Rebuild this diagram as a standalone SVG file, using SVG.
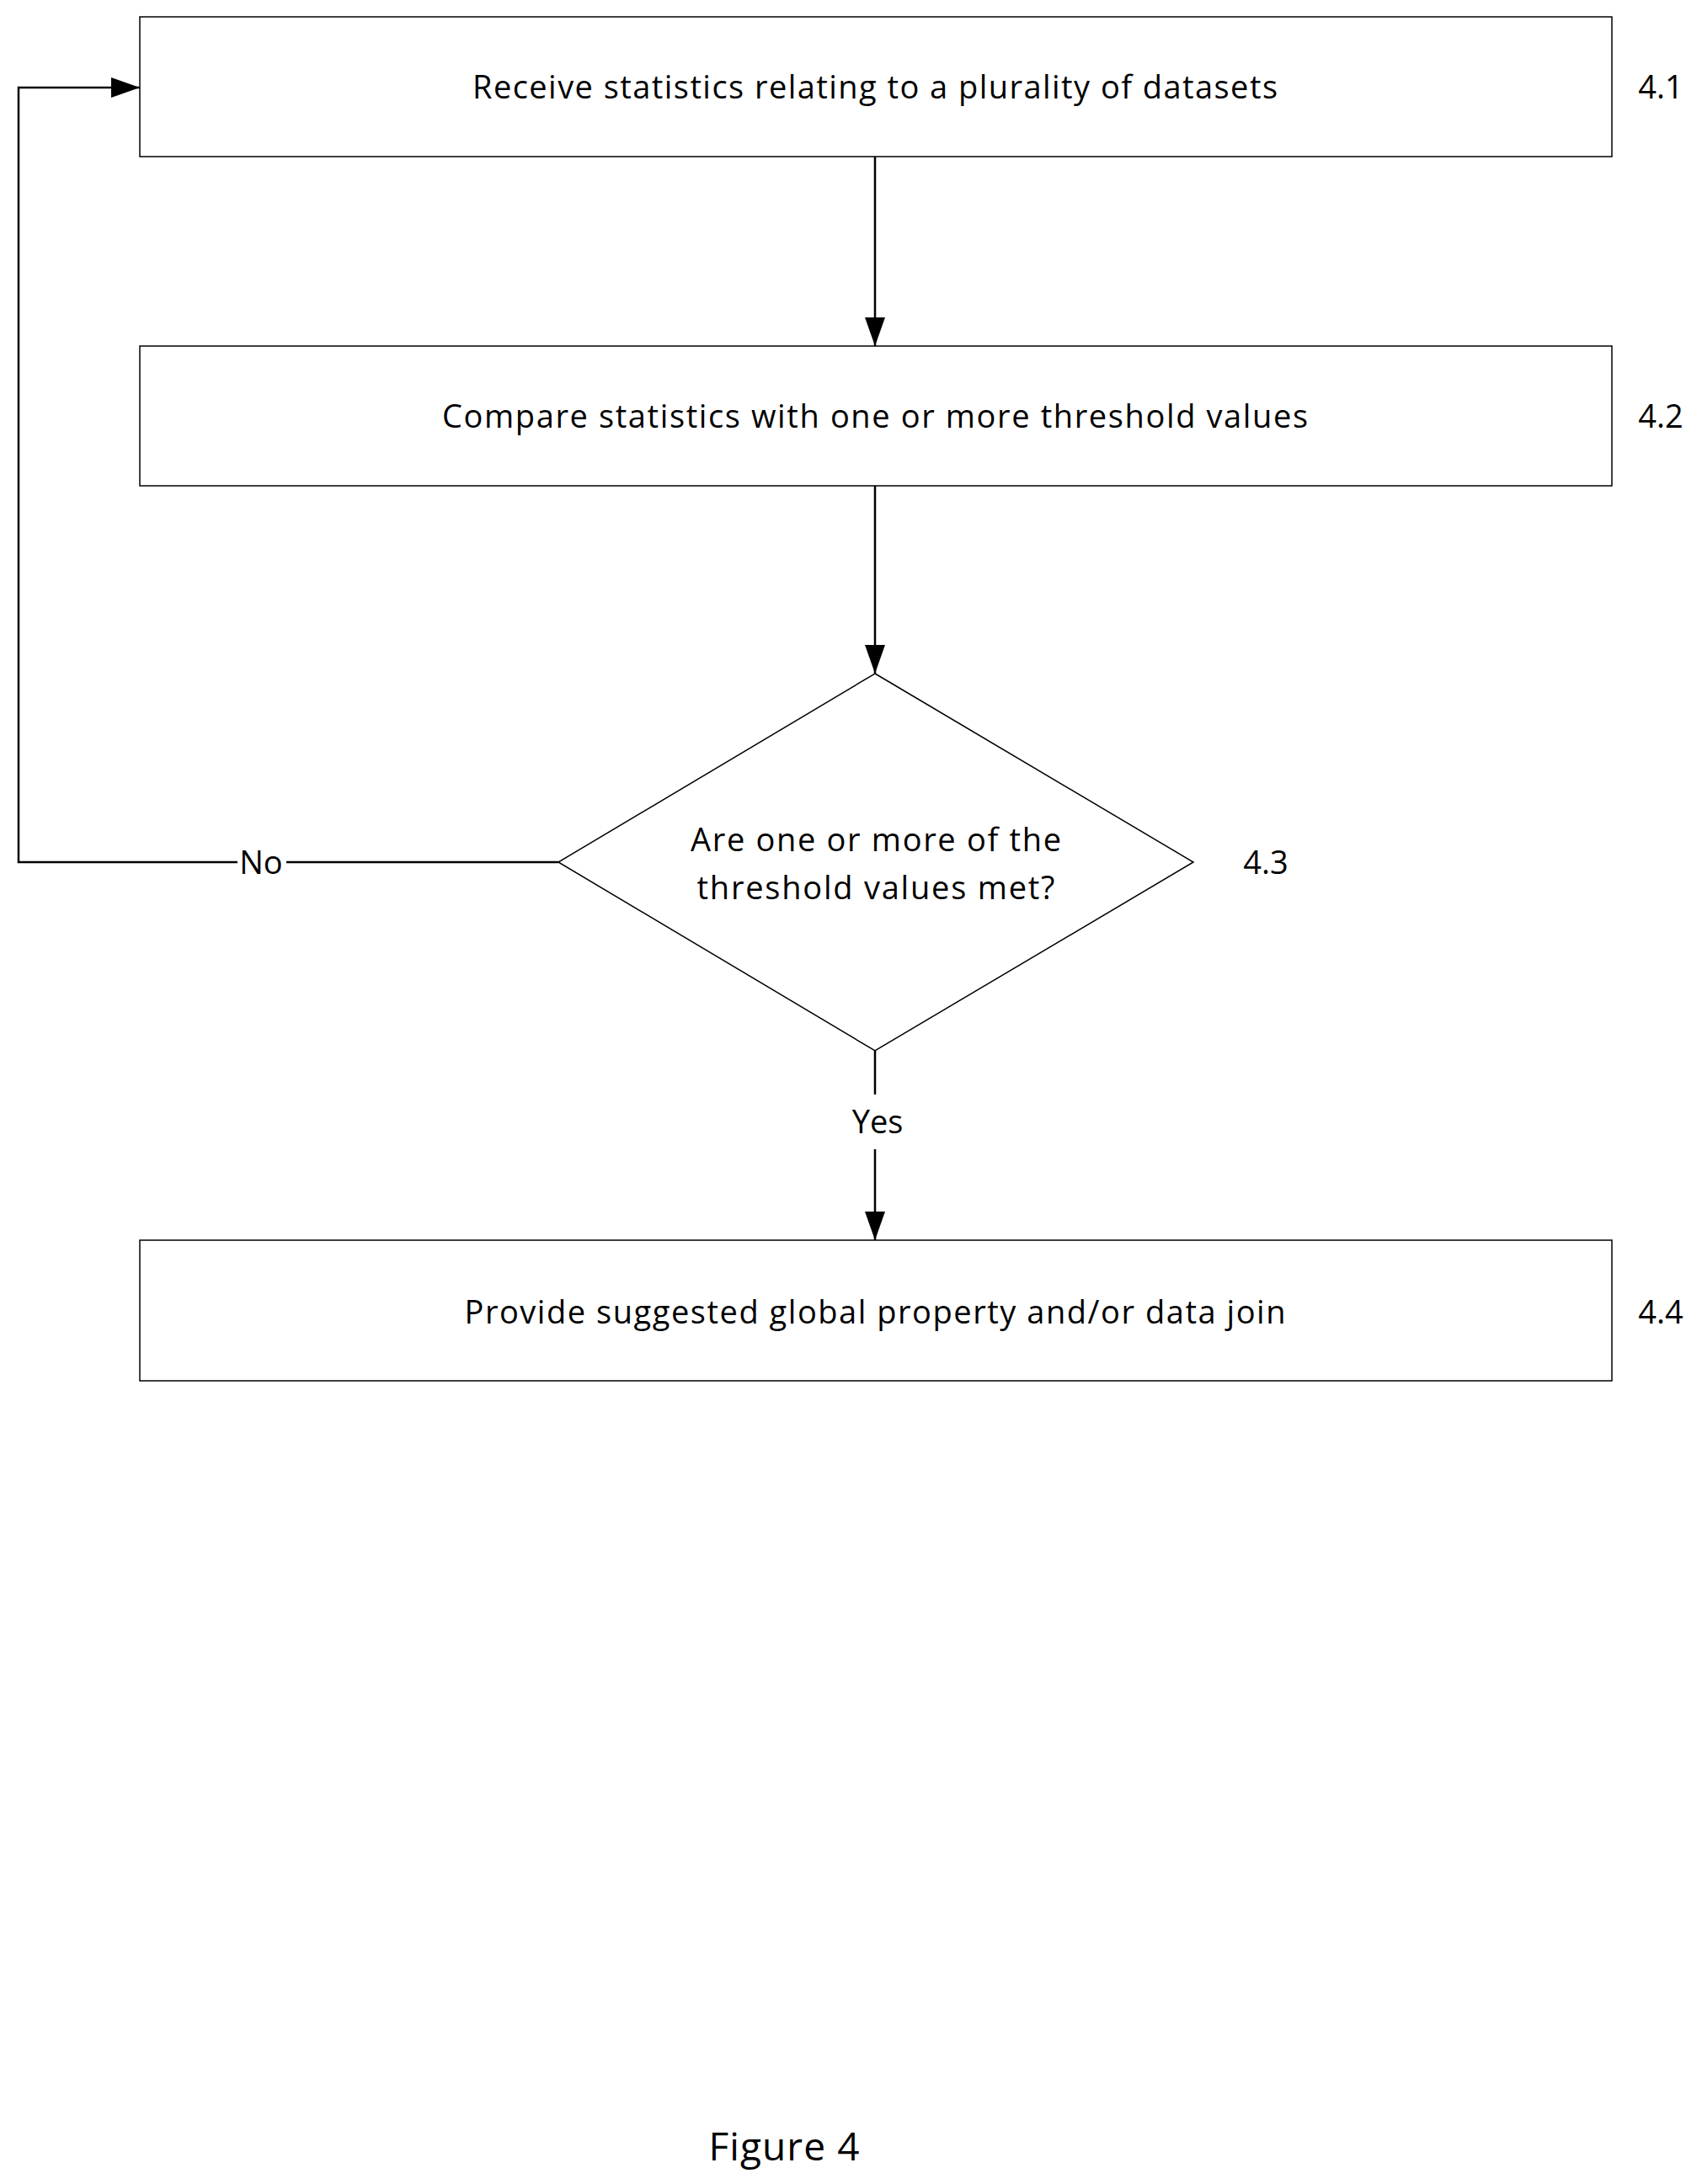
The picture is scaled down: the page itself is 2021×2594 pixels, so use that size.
<svg xmlns="http://www.w3.org/2000/svg" width="2021" height="2594" viewBox="0 0 2021 2594">
<style>
.b{fill:#fff;stroke:#000;stroke-width:1.5}
.t{font-family:"Open Sans",sans-serif;font-size:38px;fill:#000;text-anchor:middle}
.c{fill:none;stroke:#000;stroke-width:2.5}
</style>
<defs><marker id="a" markerWidth="12" markerHeight="12" refX="11" refY="6" orient="auto" markerUnits="userSpaceOnUse"><path d="M0,0L12,6L0,12z" fill="#000"/></marker>
<marker id="m" markerWidth="34" markerHeight="24" viewBox="0 0 34 24" refX="34" refY="12" orient="auto" markerUnits="userSpaceOnUse"><path d="M0,0L34,12L0,24z" fill="#000"/></marker></defs>
<rect width="2021" height="2594" fill="#fff"/>
<g id="connectors">
<path class="c" d="M1039,186V411" marker-end="url(#m)"/>
<path class="c" d="M1039,577V800" marker-end="url(#m)"/>
<path class="c" d="M1039,1248V1300M1039,1365V1473" marker-end="url(#m)"/>
<path class="c" d="M663,1024H340M282,1024H22V104H166" marker-end="url(#m)"/>
<text class="t" x="310" y="1038">No</text>
<text class="t" x="1042" y="1346">Yes</text>
</g>
<g id="n41"><rect class="b" x="166" y="20" width="1748" height="166"/><text class="t" x="1039" y="117" textLength="956">Receive statistics relating to a plurality of datasets</text><text class="t" x="1972" y="117">4.1</text></g>
<g id="n42"><rect class="b" x="166" y="411" width="1748" height="166"/><text class="t" x="1039" y="508" textLength="1028">Compare statistics with one or more threshold values</text><text class="t" x="1972" y="508">4.2</text></g>
<g id="n43"><path class="b" d="M1039,800L1417,1024L1039,1248L663,1024z"/><text class="t" x="1040" y="1011" textLength="440">Are one or more of the</text><text class="t" x="1040" y="1068" textLength="425">threshold values met?</text><text class="t" x="1503" y="1038">4.3</text></g>
<g id="n44"><rect class="b" x="166" y="1473" width="1748" height="167"/><text class="t" x="1039" y="1572" textLength="975">Provide suggested global property and/or data join</text><text class="t" x="1972" y="1572">4.4</text></g>
<text class="t" x="931" y="2566" style="font-size:46px" textLength="179">Figure 4</text>
</svg>
